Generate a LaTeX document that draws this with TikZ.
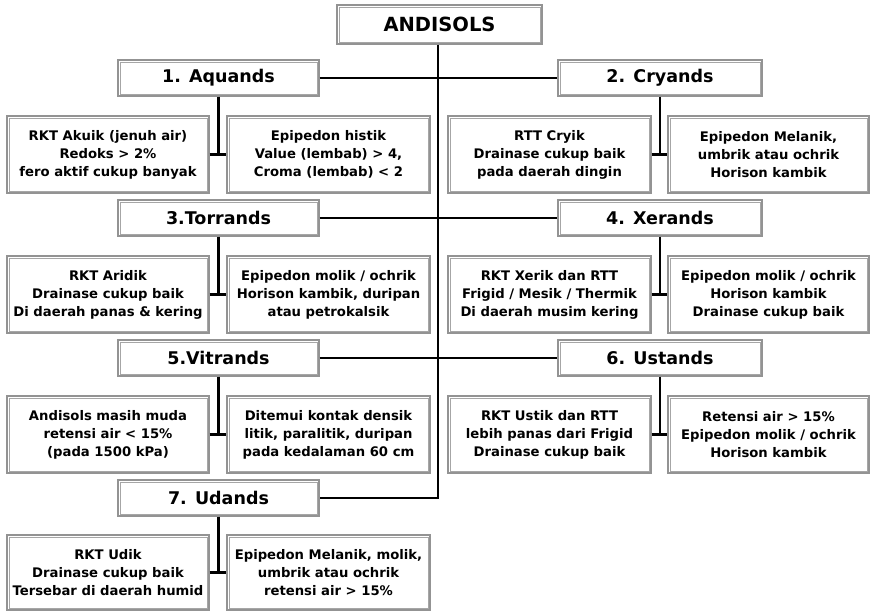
\documentclass[tikz,border=0pt]{standalone}
\usepackage{fontspec}
\setmainfont{DejaVu Sans}[BoldFont={DejaVu Sans Bold}]
\begin{document}
\begin{tikzpicture}[x=1pt,y=-1pt,
  box/.style={draw=gray!85, line width=1.3pt,
    fill=white, inner sep=0pt, align=center, font=\bfseries\fontsize{13.2}{18}\selectfont},
  innerline/.style={draw=gray!70, line width=0.9pt},
  titlebox/.style={box, minimum height=36pt, font=\bfseries\fontsize{17.5}{20}\selectfont},
  subbox/.style={box, minimum height=77pt, minimum width=202pt},
  conn/.style={line width=2.4pt, black}]
\useasboundingbox (0,0) rectangle (870,611);
% root
\node[titlebox, minimum width=205pt, minimum height=39pt, font=\bfseries\fontsize{19.5}{22}\selectfont] (root) at (439.5,24.5) {ANDISOLS};
% row 1
\node[titlebox, minimum width=201pt] (t1) at (218.5,78) {1. Aquands};
\node[titlebox, minimum width=204pt] (t2) at (660,78) {2. Cryands};
\node[subbox] (a1) at (108,154.5) {RKT Akuik (jenuh air)\\Redoks > 2\%\\fero aktif cukup banyak};
\node[subbox, minimum width=203pt] (a2) at (328.5,154.5) {Epipedon histik\\Value (lembab) > 4,\\Croma (lembab) < 2};
\node[subbox, minimum width=203pt] (b1) at (549.5,154.5) {RTT Cryik\\Drainase cukup baik\\pada daerah dingin};
\node[subbox, minimum width=201pt] (b2) at (768.5,154.5) {Epipedon Melanik,\\umbrik atau ochrik\\Horison kambik};
% row 2
\node[titlebox, minimum width=201pt] (t3) at (218.5,218) {3.Torrands};
\node[titlebox, minimum width=204pt] (t4) at (660,218) {4. Xerands};
\node[subbox] (c1) at (108,294.5) {RKT Aridik\\Drainase cukup baik\\Di daerah panas \& kering};
\node[subbox, minimum width=203pt] (c2) at (328.5,294.5) {Epipedon molik / ochrik\\Horison kambik, duripan\\atau petrokalsik};
\node[subbox, minimum width=203pt] (d1) at (549.5,294.5) {RKT Xerik dan RTT\\Frigid / Mesik / Thermik\\Di daerah musim kering};
\node[subbox, minimum width=201pt] (d2) at (768.5,294.5) {Epipedon molik / ochrik\\Horison kambik\\Drainase cukup baik};
% row 3
\node[titlebox, minimum width=201pt] (t5) at (218.5,358) {5.Vitrands};
\node[titlebox, minimum width=204pt] (t6) at (660,358) {6. Ustands};
\node[subbox] (e1) at (108,434.5) {Andisols masih muda\\retensi air < 15\%\\(pada 1500 kPa)};
\node[subbox, minimum width=203pt] (e2) at (328.5,434.5) {Ditemui kontak densik\\litik, paralitik, duripan\\pada kedalaman 60 cm};
\node[subbox, minimum width=203pt] (f1) at (549.5,434.5) {RKT Ustik dan RTT\\lebih panas dari Frigid\\Drainase cukup baik};
\node[subbox, minimum width=201pt] (f2) at (768.5,434.5) {Retensi air > 15\%\\Epipedon molik / ochrik\\Horison kambik};
% row 4
\node[titlebox, minimum width=201pt] (t7) at (218.5,498) {7. Udands};
\node[subbox, minimum height=75pt] (g1) at (108,572.5) {RKT Udik\\Drainase cukup baik\\Tersebar di daerah humid};
\node[subbox, minimum width=203pt, minimum height=75pt] (g2) at (328.5,572.5) {Epipedon Melanik, molik,\\umbrik atau ochrik\\retensi air > 15\%};
% inner border lines
\foreach \n in {root,t1,t2,t3,t4,t5,t6,t7,a1,a2,b1,b2,c1,c2,d1,d2,e1,e2,f1,f2,g1,g2}{
  \draw[innerline] ([shift={(2.6pt,-2.6pt)}]\n.north west) rectangle ([shift={(-2.6pt,2.6pt)}]\n.south east);
}
% trunk
\coordinate (tr) at ([xshift=-1.5pt]root.south);
\draw[conn] (tr) -- (tr |- t7.east) -- (t7.east);
\foreach \l/\r in {t1/t2, t3/t4, t5/t6}{
  \draw[conn] (\l.east) -- (\r.west);
}
% sub connectors
\foreach \t/\p/\q in {t1/a1/a2, t2/b1/b2, t3/c1/c2, t4/d1/d2, t5/e1/e2, t6/f1/f2, t7/g1/g2}{
  \draw[conn] (\t.south) -- (\t.south |- \p.east);
  \draw[conn] (\p.east) -- (\q.west);
}
\end{tikzpicture}
\end{document}
